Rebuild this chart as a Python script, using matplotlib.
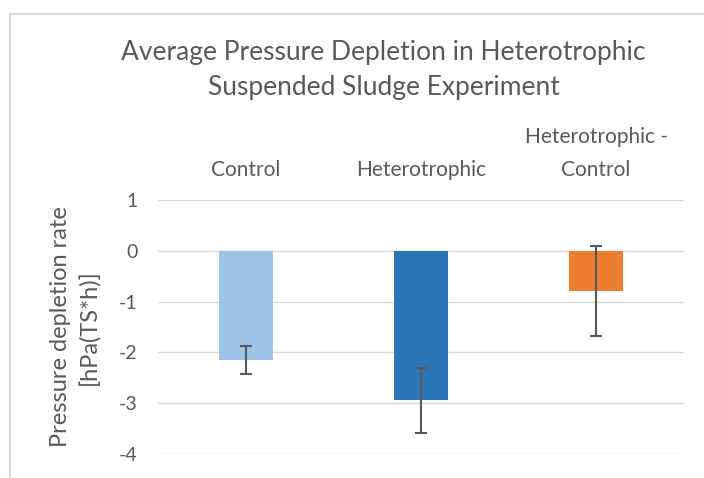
import numpy as np
import matplotlib.pyplot as plt
from matplotlib.patches import Rectangle

categories = ['Control', 'Heterotrophic', 'Heterotrophic -\nControl']
rates = [-2.15, -2.94, -0.79]
errors = [0.27, 0.64, 0.89]
colors = ['#9DC3E6', '#2E75B6', '#ED7D31']

plt.rcParams['font.family'] = ['Lato', 'DejaVu Sans']
plt.rcParams['axes.unicode_minus'] = False
grey = '#595959'

fig = plt.figure(figsize=(7.04, 4.78), dpi=100)
ax = fig.add_axes([0.225, 0.05, 0.746, 0.532])

x = np.arange(len(categories))
ax.bar(x, rates, width=0.31, color=colors, zorder=2)
ax.errorbar(x, rates, yerr=errors, fmt='none', ecolor=grey, elinewidth=1.5,
            capsize=4, capthick=1.5, zorder=3)

ax.set_xlim(-0.5, 2.5)
ax.set_ylim(-4, 1)
ax.set_yticks(np.arange(-4, 2, 1))
ax.grid(axis='y', color='#d9d9d9', linewidth=1, zorder=0)
for s in ax.spines.values():
    s.set_visible(False)

ax.xaxis.tick_top()
ax.set_xticks(x)
ax.set_xticklabels(categories, fontsize=15, color=grey, linespacing=1.85)
ax.tick_params(axis='x', length=0, pad=14)
ax.tick_params(axis='y', length=0, pad=15, labelsize=14, labelcolor=grey)

ax.set_ylabel('Pressure depletion rate\n[hPa(TS*h)]', fontsize=17, color=grey,
              linespacing=1.4, labelpad=13)

fig.text(0.545, 0.853, 'Average Pressure Depletion in Heterotrophic\nSuspended Sludge Experiment',
         ha='center', va='center', fontsize=19, color=grey, linespacing=1.5)

# light chart frame
fig.patches.append(Rectangle((10 / 704, -0.1), 1.2, 1 - 14 / 478 + 0.1,
                             transform=fig.transFigure, fill=False,
                             edgecolor='#d9d9d9', linewidth=1.5))

fig.savefig('out.png', dpi=100)
